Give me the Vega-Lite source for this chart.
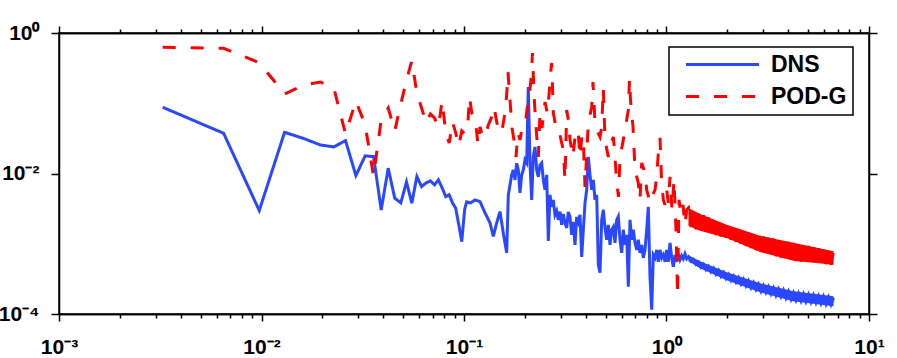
{
 "$schema": "https://vega.github.io/schema/vega-lite/v6.json",
 "width": 810, "height": 281,
 "autosize": {"type": "none"},
 "padding": {"left": 59, "top": 33, "right": 28, "bottom": 44},
 "background": "white",
 "config": {
  "view": {"stroke": "black", "strokeWidth": 1.5},
  "axis": {"labelFont": "Liberation Sans", "labelFontWeight": "bold", "labelFontSize": 21, "labelColor": "black", "ticks": true, "tickColor": "black", "tickWidth": 1.5, "grid": false, "domain": true, "domainColor": "black", "domainWidth": 1.5, "title": null, "zindex": 2},
  "legend": {"strokeWidth": 1.5}
 },
 "data": {"values": [
{"f":0.00325,"v":0.0877,"s":"DNS"},{"f":0.0065,"v":0.0374,"s":"DNS"},{"f":0.00975,"v":0.00297,"s":"DNS"},{"f":0.013,"v":0.0386,"s":"DNS"},{"f":0.01625,"v":0.0313,"s":"DNS"},{"f":0.0195,"v":0.0255,"s":"DNS"},{"f":0.02275,"v":0.0239,"s":"DNS"},{"f":0.026,"v":0.0294,"s":"DNS"},{"f":0.02925,"v":0.00933,"s":"DNS"},{"f":0.0325,"v":0.0178,"s":"DNS"},{"f":0.03575,"v":0.0174,"s":"DNS"},{"f":0.039,"v":0.00303,"s":"DNS"},{"f":0.04225,"v":0.0119,"s":"DNS"},{"f":0.0455,"v":0.00446,"s":"DNS"},{"f":0.04875,"v":0.00382,"s":"DNS"},{"f":0.052,"v":0.0076,"s":"DNS"},{"f":0.05525,"v":0.00378,"s":"DNS"},{"f":0.0585,"v":0.00904,"s":"DNS"},{"f":0.06175,"v":0.00652,"s":"DNS"},{"f":0.065,"v":0.00735,"s":"DNS"},{"f":0.06825,"v":0.00785,"s":"DNS"},{"f":0.0715,"v":0.00689,"s":"DNS"},{"f":0.07475,"v":0.00811,"s":"DNS"},{"f":0.078,"v":0.00624,"s":"DNS"},{"f":0.08125,"v":0.00469,"s":"DNS"},{"f":0.0845,"v":0.00497,"s":"DNS"},{"f":0.08775,"v":0.00382,"s":"DNS"},{"f":0.091,"v":0.00321,"s":"DNS"},{"f":0.09425,"v":0.00186,"s":"DNS"},{"f":0.0975,"v":0.00107,"s":"DNS"},{"f":0.10075,"v":0.0031,"s":"DNS"},
{"f":0.1031,"v":0.00395,"s":"DNS"},{"f":0.1079,"v":0.00382,"s":"DNS"},{"f":0.1133,"v":0.00421,"s":"DNS"},{"f":0.12,"v":0.00398,"s":"DNS"},{"f":0.127,"v":0.00275,"s":"DNS"},{"f":0.1344,"v":0.00198,"s":"DNS"},{"f":0.1395,"v":0.00127,"s":"DNS"},{"f":0.145,"v":0.00198,"s":"DNS"},{"f":0.1506,"v":0.00287,"s":"DNS"},{"f":0.1563,"v":0.00142,"s":"DNS"},{"f":0.1625,"v":0.000742,"s":"DNS"},{"f":0.1655,"v":0.00496,"s":"DNS"},{"f":0.172,"v":0.00955,"s":"DNS"},{"f":0.1752,"v":0.01125,"s":"DNS"},{"f":0.1786,"v":0.00811,"s":"DNS"},{"f":0.182,"v":0.014,"s":"DNS"},{"f":0.1854,"v":0.01125,"s":"DNS"},{"f":0.189,"v":0.0053,"s":"DNS"},{"f":0.1927,"v":0.00955,"s":"DNS"},{"f":0.1963,"v":0.01125,"s":"DNS"},{"f":0.2001,"v":0.0156,"s":"DNS"},{"f":0.204,"v":0.01415,"s":"DNS"},{"f":0.2077,"v":0.1706,"s":"DNS"},{"f":0.2118,"v":0.01415,"s":"DNS"},{"f":0.2159,"v":0.00421,"s":"DNS"},{"f":0.2199,"v":0.0172,"s":"DNS"},{"f":0.2242,"v":0.0239,"s":"DNS"},{"f":0.2286,"v":0.01125,"s":"DNS"},{"f":0.2328,"v":0.00895,"s":"DNS"},{"f":0.2373,"v":0.01325,"s":"DNS"},{"f":0.2419,"v":0.01415,"s":"DNS"},{"f":0.2464,"v":0.00811,"s":"DNS"},{"f":0.2512,"v":0.00585,"s":"DNS"},{"f":0.2561,"v":0.00955,"s":"DNS"},{"f":0.2608,"v":0.0011,"s":"DNS"},{"f":0.2659,"v":0.00496,"s":"DNS"},{"f":0.2711,"v":0.00335,"s":"DNS"},{"f":0.2761,"v":0.00421,"s":"DNS"},{"f":0.2814,"v":0.00258,"s":"DNS"},{"f":0.2869,"v":0.00294,"s":"DNS"},{"f":0.2922,"v":0.00219,"s":"DNS"},{"f":0.2979,"v":0.00287,"s":"DNS"},{"f":0.3037,"v":0.00186,"s":"DNS"},{"f":0.3093,"v":0.00266,"s":"DNS"},{"f":0.3153,"v":0.00198,"s":"DNS"},{"f":0.3215,"v":0.00168,"s":"DNS"},{"f":0.3274,"v":0.00284,"s":"DNS"},{"f":0.3338,"v":0.00241,"s":"DNS"},{"f":0.3402,"v":0.00134,"s":"DNS"},{"f":0.3465,"v":0.00205,"s":"DNS"},{"f":0.3533,"v":0.000965,"s":"DNS"},{"f":0.3602,"v":0.00241,"s":"DNS"},{"f":0.3668,"v":0.00205,"s":"DNS"},{"f":0.3739,"v":0.00258,"s":"DNS"},{"f":0.3813,"v":0.000651,"s":"DNS"},{"f":0.3883,"v":0.00158,"s":"DNS"},{"f":0.3959,"v":0.00382,"s":"DNS"},{"f":0.4036,"v":0.00585,"s":"DNS"},{"f":0.411,"v":0.0172,"s":"DNS"},{"f":0.419,"v":0.00955,"s":"DNS"},{"f":0.4272,"v":0.00585,"s":"DNS"},{"f":0.435,"v":0.00811,"s":"DNS"},{"f":0.4436,"v":0.00421,"s":"DNS"},{"f":0.4522,"v":0.00496,"s":"DNS"},{"f":0.4605,"v":0.000501,"s":"DNS"},{"f":0.4695,"v":0.000386,"s":"DNS"},{"f":0.4786,"v":0.00219,"s":"DNS"},{"f":0.4874,"v":0.00304,"s":"DNS"},{"f":0.4969,"v":0.00168,"s":"DNS"},{"f":0.5067,"v":0.00114,"s":"DNS"},{"f":0.516,"v":0.00186,"s":"DNS"},{"f":0.526,"v":0.000965,"s":"DNS"},{"f":0.5363,"v":0.00158,"s":"DNS"},{"f":0.5462,"v":0.00174,"s":"DNS"},{"f":0.5568,"v":0.00103,"s":"DNS"},{"f":0.5677,"v":0.00219,"s":"DNS"},{"f":0.5781,"v":0.00244,"s":"DNS"},{"f":0.5894,"v":0.00114,"s":"DNS"},{"f":0.6009,"v":0.000742,"s":"DNS"},{"f":0.6119,"v":0.00158,"s":"DNS"},{"f":0.6239,"v":0.000965,"s":"DNS"},{"f":0.6361,"v":0.00134,"s":"DNS"},{"f":0.6478,"v":0.000244,"s":"DNS"},{"f":0.6604,"v":0.00219,"s":"DNS"},{"f":0.6732,"v":0.00114,"s":"DNS"},{"f":0.6855,"v":0.00158,"s":"DNS"},{"f":0.699,"v":0.00103,"s":"DNS"},{"f":0.7125,"v":0.000819,"s":"DNS"},{"f":0.7257,"v":0.00114,"s":"DNS"},{"f":0.7398,"v":0.000742,"s":"DNS"},{"f":0.7543,"v":0.000965,"s":"DNS"},{"f":0.7681,"v":0.00063,"s":"DNS"},{"f":0.7831,"v":0.000819,"s":"DNS"},{"f":0.7984,"v":0.00158,"s":"DNS"},{"f":0.8131,"v":0.00335,"s":"DNS"},{"f":0.829,"v":0.000338,"s":"DNS"},{"f":0.8452,"v":0.000115,"s":"DNS"},{"f":0.8608,"v":0.000695,"s":"DNS"},{"f":0.8775,"v":0.00063,"s":"DNS"},{"f":0.8947,"v":0.000819,"s":"DNS"},{"f":0.9111,"v":0.000553,"s":"DNS"},{"f":0.9289,"v":0.000819,"s":"DNS"},{"f":0.9471,"v":0.00063,"s":"DNS"},{"f":0.9644,"v":0.000695,"s":"DNS"},{"f":0.9831,"v":0.000553,"s":"DNS"},{"f":1.0023,"v":0.000819,"s":"DNS"},{"f":1.0207,"v":0.000553,"s":"DNS"},{"f":1.0406,"v":0.00103,"s":"DNS"},{"f":1.0609,"v":0.00063,"s":"DNS"},{"f":1.0804,"v":0.000469,"s":"DNS"},{"f":1.1015,"v":0.000695,"s":"DNS"},{"f":1.123,"v":0.000553,"s":"DNS"},{"f":1.1436,"v":0.000718,"s":"DNS"},{"f":1.1659,"v":0.00059,"s":"DNS"},{"f":1.1887,"v":0.000673,"s":"DNS"},{"f":1.2104,"v":0.00061,"s":"DNS"},{"f":1.234,"v":0.000718,"s":"DNS"},{"f":1.258,"v":0.00061,"s":"DNS"},
{"f":1.284,"v":0.000651,"s":"DNS"},{"f":1.321,"v":0.000562,"s":"DNS"},{"f":1.359,"v":0.000598,"s":"DNS"},{"f":1.398,"v":0.000509,"s":"DNS"},{"f":1.439,"v":0.000547,"s":"DNS"},{"f":1.481,"v":0.000463,"s":"DNS"},{"f":1.523,"v":0.000511,"s":"DNS"},{"f":1.567,"v":0.000428,"s":"DNS"},{"f":1.612,"v":0.000477,"s":"DNS"},{"f":1.659,"v":0.000398,"s":"DNS"},{"f":1.707,"v":0.000447,"s":"DNS"},{"f":1.756,"v":0.000369,"s":"DNS"},{"f":1.807,"v":0.000417,"s":"DNS"},{"f":1.859,"v":0.000344,"s":"DNS"},{"f":1.913,"v":0.000391,"s":"DNS"},{"f":1.968,"v":0.00032,"s":"DNS"},{"f":2.025,"v":0.000366,"s":"DNS"},{"f":2.083,"v":0.000301,"s":"DNS"},{"f":2.143,"v":0.000347,"s":"DNS"},{"f":2.205,"v":0.000284,"s":"DNS"},{"f":2.268,"v":0.000328,"s":"DNS"},{"f":2.334,"v":0.000267,"s":"DNS"},{"f":2.401,"v":0.000312,"s":"DNS"},{"f":2.47,"v":0.000252,"s":"DNS"},{"f":2.541,"v":0.000295,"s":"DNS"},{"f":2.615,"v":0.000237,"s":"DNS"},{"f":2.69,"v":0.000279,"s":"DNS"},{"f":2.767,"v":0.000224,"s":"DNS"},{"f":2.847,"v":0.000265,"s":"DNS"},{"f":2.929,"v":0.000212,"s":"DNS"},{"f":3.013,"v":0.000253,"s":"DNS"},{"f":3.1,"v":0.000203,"s":"DNS"},{"f":3.19,"v":0.000243,"s":"DNS"},{"f":3.282,"v":0.000194,"s":"DNS"},{"f":3.376,"v":0.000234,"s":"DNS"},{"f":3.474,"v":0.000185,"s":"DNS"},{"f":3.574,"v":0.000225,"s":"DNS"},{"f":3.677,"v":0.000178,"s":"DNS"},{"f":3.783,"v":0.000217,"s":"DNS"},{"f":3.892,"v":0.00017,"s":"DNS"},{"f":4.004,"v":0.000208,"s":"DNS"},{"f":4.12,"v":0.000163,"s":"DNS"},{"f":4.238,"v":0.0002,"s":"DNS"},{"f":4.361,"v":0.000158,"s":"DNS"},{"f":4.486,"v":0.000196,"s":"DNS"},{"f":4.616,"v":0.000154,"s":"DNS"},{"f":4.749,"v":0.000192,"s":"DNS"},{"f":4.886,"v":0.000151,"s":"DNS"},{"f":5.026,"v":0.000188,"s":"DNS"},{"f":5.171,"v":0.000148,"s":"DNS"},{"f":5.32,"v":0.000185,"s":"DNS"},{"f":5.474,"v":0.000145,"s":"DNS"},{"f":5.632,"v":0.00018,"s":"DNS"},{"f":5.794,"v":0.000142,"s":"DNS"},{"f":5.961,"v":0.000177,"s":"DNS"},{"f":6.133,"v":0.000139,"s":"DNS"},{"f":6.31,"v":0.000173,"s":"DNS"},{"f":6.492,"v":0.000137,"s":"DNS"},{"f":6.679,"v":0.00017,"s":"DNS"},
{"f":0.00325,"v":0.626,"s":"POD-G"},{"f":0.0065,"v":0.606,"s":"POD-G"},{"f":0.00975,"v":0.378,"s":"POD-G"},{"f":0.013,"v":0.1356,"s":"POD-G"},{"f":0.01625,"v":0.182,"s":"POD-G"},{"f":0.0195,"v":0.201,"s":"POD-G"},{"f":0.02275,"v":0.165,"s":"POD-G"},{"f":0.026,"v":0.0366,"s":"POD-G"},{"f":0.02925,"v":0.1078,"s":"POD-G"},{"f":0.0325,"v":0.0491,"s":"POD-G"},{"f":0.03575,"v":0.00925,"s":"POD-G"},{"f":0.039,"v":0.0579,"s":"POD-G"},{"f":0.04225,"v":0.0857,"s":"POD-G"},{"f":0.0455,"v":0.0404,"s":"POD-G"},{"f":0.04875,"v":0.0977,"s":"POD-G"},{"f":0.052,"v":0.2145,"s":"POD-G"},{"f":0.05525,"v":0.4,"s":"POD-G"},{"f":0.0585,"v":0.14,"s":"POD-G"},{"f":0.06175,"v":0.0857,"s":"POD-G"},{"f":0.065,"v":0.0525,"s":"POD-G"},{"f":0.06825,"v":0.0704,"s":"POD-G"},{"f":0.0715,"v":0.0618,"s":"POD-G"},{"f":0.07475,"v":0.046,"s":"POD-G"},{"f":0.078,"v":0.1078,"s":"POD-G"},{"f":0.08125,"v":0.0378,"s":"POD-G"},{"f":0.0845,"v":0.0272,"s":"POD-G"},{"f":0.08775,"v":0.0542,"s":"POD-G"},{"f":0.091,"v":0.0378,"s":"POD-G"},{"f":0.09425,"v":0.0247,"s":"POD-G"},{"f":0.0975,"v":0.0404,"s":"POD-G"},{"f":0.10075,"v":0.0366,"s":"POD-G"},
{"f":0.1041,"v":0.0445,"s":"POD-G"},{"f":0.1065,"v":0.1229,"s":"POD-G"},{"f":0.1092,"v":0.0728,"s":"POD-G"},{"f":0.1133,"v":0.0639,"s":"POD-G"},{"f":0.1173,"v":0.0255,"s":"POD-G"},{"f":0.12,"v":0.046,"s":"POD-G"},{"f":0.1237,"v":0.0332,"s":"POD-G"},{"f":0.127,"v":0.0332,"s":"POD-G"},{"f":0.1318,"v":0.0491,"s":"POD-G"},{"f":0.137,"v":0.0639,"s":"POD-G"},{"f":0.1407,"v":0.0886,"s":"POD-G"},{"f":0.1439,"v":0.0618,"s":"POD-G"},{"f":0.1477,"v":0.0417,"s":"POD-G"},{"f":0.1535,"v":0.0378,"s":"POD-G"},{"f":0.1581,"v":0.0639,"s":"POD-G"},{"f":0.1625,"v":0.1312,"s":"POD-G"},{"f":0.1649,"v":0.2788,"s":"POD-G"},{"f":0.1687,"v":0.1114,"s":"POD-G"},{"f":0.1726,"v":0.0445,"s":"POD-G"},{"f":0.1766,"v":0.0301,"s":"POD-G"},{"f":0.1806,"v":0.0172,"s":"POD-G"},{"f":0.1848,"v":0.0378,"s":"POD-G"},{"f":0.189,"v":0.0301,"s":"POD-G"},{"f":0.1927,"v":0.0417,"s":"POD-G"},{"f":0.2001,"v":0.046,"s":"POD-G"},{"f":0.2047,"v":0.0803,"s":"POD-G"},{"f":0.2094,"v":0.1229,"s":"POD-G"},{"f":0.2142,"v":0.2145,"s":"POD-G"},{"f":0.2179,"v":0.5194,"s":"POD-G"},{"f":0.2217,"v":0.1312,"s":"POD-G"},{"f":0.2268,"v":0.046,"s":"POD-G"},{"f":0.2328,"v":0.0172,"s":"POD-G"},{"f":0.2373,"v":0.0728,"s":"POD-G"},{"f":0.2428,"v":0.0445,"s":"POD-G"},{"f":0.2512,"v":0.1044,"s":"POD-G"},{"f":0.2578,"v":0.0728,"s":"POD-G"},{"f":0.2629,"v":0.1312,"s":"POD-G"},{"f":0.268,"v":0.2698,"s":"POD-G"},{"f":0.2711,"v":0.3744,"s":"POD-G"},{"f":0.2761,"v":0.0728,"s":"POD-G"},{"f":0.283,"v":0.0491,"s":"POD-G"},{"f":0.2912,"v":0.0491,"s":"POD-G"},{"f":0.3013,"v":0.0301,"s":"POD-G"},{"f":0.3093,"v":0.0217,"s":"POD-G"},{"f":0.3153,"v":0.00811,"s":"POD-G"},{"f":0.3215,"v":0.0803,"s":"POD-G"},{"f":0.3274,"v":0.0579,"s":"POD-G"},{"f":0.3338,"v":0.0301,"s":"POD-G"},{"f":0.3454,"v":0.0172,"s":"POD-G"},{"f":0.3533,"v":0.0332,"s":"POD-G"},{"f":0.3656,"v":0.0417,"s":"POD-G"},{"f":0.3739,"v":0.0172,"s":"POD-G"},{"f":0.3826,"v":0.0354,"s":"POD-G"},{"f":0.3883,"v":0.0301,"s":"POD-G"},{"f":0.3959,"v":0.00645,"s":"POD-G"},{"f":0.411,"v":0.0525,"s":"POD-G"},{"f":0.4272,"v":0.0886,"s":"POD-G"},{"f":0.4336,"v":0.2009,"s":"POD-G"},{"f":0.4436,"v":0.0525,"s":"POD-G"},{"f":0.4522,"v":0.0417,"s":"POD-G"},{"f":0.4695,"v":0.0332,"s":"POD-G"},{"f":0.4786,"v":0.046,"s":"POD-G"},{"f":0.4874,"v":0.1651,"s":"POD-G"},{"f":0.4969,"v":0.0301,"s":"POD-G"},{"f":0.516,"v":0.0172,"s":"POD-G"},{"f":0.526,"v":0.0239,"s":"POD-G"},{"f":0.5462,"v":0.0332,"s":"POD-G"},{"f":0.5537,"v":0.0217,"s":"POD-G"},{"f":0.5677,"v":0.00735,"s":"POD-G"},{"f":0.5794,"v":0.00465,"s":"POD-G"},{"f":0.5894,"v":0.0172,"s":"POD-G"},{"f":0.6119,"v":0.0301,"s":"POD-G"},{"f":0.6239,"v":0.0417,"s":"POD-G"},{"f":0.6478,"v":0.0803,"s":"POD-G"},{"f":0.6567,"v":0.2217,"s":"POD-G"},{"f":0.6641,"v":0.1114,"s":"POD-G"},{"f":0.6833,"v":0.046,"s":"POD-G"},{"f":0.699,"v":0.01125,"s":"POD-G"},{"f":0.7257,"v":0.00735,"s":"POD-G"},{"f":0.7398,"v":0.00421,"s":"POD-G"},{"f":0.7543,"v":0.01415,"s":"POD-G"},{"f":0.7831,"v":0.0102,"s":"POD-G"},{"f":0.7984,"v":0.00585,"s":"POD-G"},{"f":0.829,"v":0.00382,"s":"POD-G"},{"f":0.8452,"v":0.00465,"s":"POD-G"},{"f":0.8775,"v":0.00585,"s":"POD-G"},{"f":0.8947,"v":0.00895,"s":"POD-G"},{"f":0.9132,"v":0.0217,"s":"POD-G"},{"f":0.9289,"v":0.0321,"s":"POD-G"},{"f":0.9449,"v":0.00811,"s":"POD-G"},{"f":0.9644,"v":0.00421,"s":"POD-G"},{"f":0.9831,"v":0.00358,"s":"POD-G"},{"f":1.0023,"v":0.00585,"s":"POD-G"},{"f":1.0207,"v":0.00382,"s":"POD-G"},{"f":1.0406,"v":0.00895,"s":"POD-G"},{"f":1.0645,"v":0.00304,"s":"POD-G"},{"f":1.0891,"v":0.00811,"s":"POD-G"},{"f":1.1141,"v":0.00158,"s":"POD-G"},{"f":1.1334,"v":0.000182,"s":"POD-G"},{"f":1.1527,"v":0.00421,"s":"POD-G"},{"f":1.1792,"v":0.00258,"s":"POD-G"},{"f":1.2063,"v":0.00358,"s":"POD-G"},{"f":1.234,"v":0.00186,"s":"POD-G"},{"f":1.258,"v":0.00304,"s":"POD-G"},
{"f":1.284,"v":0.00324,"s":"POD-G"},{"f":1.321,"v":0.00173,"s":"POD-G"},{"f":1.359,"v":0.00298,"s":"POD-G"},{"f":1.398,"v":0.00161,"s":"POD-G"},{"f":1.439,"v":0.00273,"s":"POD-G"},{"f":1.481,"v":0.00151,"s":"POD-G"},{"f":1.523,"v":0.00254,"s":"POD-G"},{"f":1.567,"v":0.00145,"s":"POD-G"},{"f":1.612,"v":0.00237,"s":"POD-G"},{"f":1.659,"v":0.00139,"s":"POD-G"},{"f":1.707,"v":0.00222,"s":"POD-G"},{"f":1.756,"v":0.00133,"s":"POD-G"},{"f":1.807,"v":0.00208,"s":"POD-G"},{"f":1.859,"v":0.00127,"s":"POD-G"},{"f":1.913,"v":0.00194,"s":"POD-G"},{"f":1.968,"v":0.00122,"s":"POD-G"},{"f":2.025,"v":0.00182,"s":"POD-G"},{"f":2.083,"v":0.00114,"s":"POD-G"},{"f":2.143,"v":0.00173,"s":"POD-G"},{"f":2.205,"v":0.00107,"s":"POD-G"},{"f":2.268,"v":0.00164,"s":"POD-G"},{"f":2.334,"v":0.000997,"s":"POD-G"},{"f":2.401,"v":0.00155,"s":"POD-G"},{"f":2.47,"v":0.000931,"s":"POD-G"},{"f":2.541,"v":0.00147,"s":"POD-G"},{"f":2.615,"v":0.000869,"s":"POD-G"},{"f":2.69,"v":0.00139,"s":"POD-G"},{"f":2.767,"v":0.000811,"s":"POD-G"},{"f":2.847,"v":0.00132,"s":"POD-G"},{"f":2.929,"v":0.00076,"s":"POD-G"},{"f":3.013,"v":0.00127,"s":"POD-G"},{"f":3.1,"v":0.000728,"s":"POD-G"},{"f":3.19,"v":0.00122,"s":"POD-G"},{"f":3.282,"v":0.000695,"s":"POD-G"},{"f":3.376,"v":0.00118,"s":"POD-G"},{"f":3.474,"v":0.000666,"s":"POD-G"},{"f":3.574,"v":0.00114,"s":"POD-G"},{"f":3.677,"v":0.000636,"s":"POD-G"},{"f":3.783,"v":0.0011,"s":"POD-G"},{"f":3.892,"v":0.00061,"s":"POD-G"},{"f":4.004,"v":0.00106,"s":"POD-G"},{"f":4.12,"v":0.000583,"s":"POD-G"},{"f":4.238,"v":0.00103,"s":"POD-G"},{"f":4.361,"v":0.000566,"s":"POD-G"},{"f":4.486,"v":0.000994,"s":"POD-G"},{"f":4.616,"v":0.000556,"s":"POD-G"},{"f":4.749,"v":0.000958,"s":"POD-G"},{"f":4.886,"v":0.000547,"s":"POD-G"},{"f":5.026,"v":0.000928,"s":"POD-G"},{"f":5.171,"v":0.000539,"s":"POD-G"},{"f":5.32,"v":0.000895,"s":"POD-G"},{"f":5.474,"v":0.00053,"s":"POD-G"},{"f":5.632,"v":0.000866,"s":"POD-G"},{"f":5.794,"v":0.000521,"s":"POD-G"},{"f":5.961,"v":0.000835,"s":"POD-G"},{"f":6.133,"v":0.000513,"s":"POD-G"},{"f":6.31,"v":0.000808,"s":"POD-G"},{"f":6.492,"v":0.000504,"s":"POD-G"},{"f":6.679,"v":0.00078,"s":"POD-G"}
 ]},
 "layer": [
  {
   "data": {"values": [
    {"f":1.284,"hi":0.000684,"lo":0.000562},{"f":1.464,"hi":0.000562,"lo":0.000447},{"f":1.983,"hi":0.000392,"lo":0.000302},{"f":2.895,"hi":0.000273,"lo":0.000204},{"f":4.229,"hi":0.00021,"lo":0.000152},{"f":6.679,"hi":0.000179,"lo":0.000129}
   ]},
   "mark": {"type": "area", "color": "#2a48ff", "opacity": 1},
   "encoding": {
    "x": {"field": "f", "type": "quantitative", "scale": {"type": "log", "domain": [0.001, 10], "nice": false}, "axis": null},
    "y": {"field": "hi", "type": "quantitative", "scale": {"type": "log", "domain": [0.0001, 1], "nice": false}, "axis": null},
    "y2": {"field": "lo"}
   }
  },
  {
   "data": {"values": [
    {"f":1.284,"hi":0.00324,"lo":0.0018},{"f":1.464,"hi":0.00266,"lo":0.00153},{"f":1.983,"hi":0.00186,"lo":0.00121},{"f":2.895,"hi":0.0013,"lo":0.000767},{"f":4.229,"hi":0.00103,"lo":0.000571},{"f":6.679,"hi":0.00078,"lo":0.000501}
   ]},
   "mark": {"type": "area", "color": "#ff0000", "opacity": 1},
   "encoding": {
    "x": {"field": "f", "type": "quantitative", "scale": {"type": "log", "domain": [0.001, 10], "nice": false}, "axis": null},
    "y": {"field": "hi", "type": "quantitative", "scale": {"type": "log", "domain": [0.0001, 1], "nice": false}, "axis": null},
    "y2": {"field": "lo"}
   }
  },
  {
   "mark": {"type": "line", "strokeWidth": 3, "clip": true},
   "encoding": {
    "x": {"field": "f", "type": "quantitative", "scale": {"type": "log", "domain": [0.001, 10], "nice": false},
     "axis": {"orient": "bottom", "values": [0.001, 0.01, 0.1, 1, 10], "tickSize": 7,
      "labelExpr": "'10' + ['⁻⁴','⁻³','⁻²','⁻¹','⁰','¹'][round(log(datum.value)/LN10)+4]",
      "labelPadding": 15, "labelOverlap": false, "labelFlush": false, "labelBound": false, "labelAlign": "center", "labelBaseline": "top"}},
    "y": {"field": "v", "type": "quantitative", "scale": {"type": "log", "domain": [0.0001, 1], "nice": false},
     "axis": {"orient": "left", "values": [0.0001, 0.01, 1], "tickSize": 8, "tickOffset": 0,
      "labelExpr": "'10' + ['⁻⁴','⁻³','⁻²','⁻¹','⁰','¹'][round(log(datum.value)/LN10)+4]",
      "labelPadding": 12, "labelOverlap": false, "labelFlush": false, "labelBound": false, "labelAlign": "right", "labelBaseline": "middle"}},
    "color": {"field": "s", "type": "nominal", "scale": {"domain": ["DNS", "POD-G"], "range": ["#2a48ff", "#ff0000"]},
     "legend": {"orient": "none", "legendX": 610, "legendY": 14, "title": null, "padding": 6, "symbolOffset": 36, "symbolType": "M-4,0H4", "symbolSize": 333, "symbolStrokeWidth": 3, "labelFont": "Liberation Sans", "labelFontWeight": "bold", "labelFontSize": 23, "labelColor": "black", "labelOffset": 37, "rowPadding": 8, "strokeColor": "black", "fillColor": "white", "cornerRadius": 0}},
    "strokeDash": {"field": "s", "type": "nominal", "scale": {"domain": ["DNS", "POD-G"], "range": [[1, 0], [13, 15]]},
     "legend": {"orient": "none", "legendX": 610, "legendY": 14, "title": null, "padding": 6, "symbolOffset": 36, "symbolType": "M-4,0H4", "symbolSize": 333, "symbolStrokeWidth": 3, "labelFont": "Liberation Sans", "labelFontWeight": "bold", "labelFontSize": 23, "labelColor": "black", "labelOffset": 37, "rowPadding": 8, "strokeColor": "black", "fillColor": "white", "cornerRadius": 0}}
   }
  },
  {
   "mark": {"type": "line", "opacity": 0},
   "encoding": {
    "x": {"field": "f", "type": "quantitative", "scale": {"type": "log", "domain": [0.001, 10], "nice": false},
     "axis": {"orient": "top", "labels": false, "values": [0.001, 0.01, 0.1, 1, 10], "tickSize": 7}},
    "y": {"field": "v", "type": "quantitative", "scale": {"type": "log", "domain": [0.0001, 1], "nice": false},
     "axis": {"orient": "right", "labels": false, "values": [0.0001, 0.01, 1], "tickSize": 8}},
    "detail": {"field": "s"}
   }
  },
  {
   "mark": {"type": "line", "opacity": 0},
   "encoding": {
    "x": {"field": "f", "type": "quantitative", "scale": {"type": "log", "domain": [0.001, 10], "nice": false},
     "axis": {"orient": "bottom", "labels": false, "tickSize": 4, "values": [0.002,0.003,0.004,0.005,0.006,0.007,0.008,0.009,0.02,0.03,0.04,0.05,0.06,0.07,0.08,0.09,0.2,0.3,0.4,0.5,0.6,0.7,0.8,0.9,2,3,4,5,6,7,8,9]}},
    "y": {"field": "v", "type": "quantitative", "scale": {"type": "log", "domain": [0.0001, 1], "nice": false}, "axis": null},
    "detail": {"field": "s"}
   }
  },
  {
   "mark": {"type": "line", "opacity": 0},
   "encoding": {
    "x": {"field": "f", "type": "quantitative", "scale": {"type": "log", "domain": [0.001, 10], "nice": false},
     "axis": {"orient": "top", "labels": false, "tickSize": 4, "values": [0.002,0.003,0.004,0.005,0.006,0.007,0.008,0.009,0.02,0.03,0.04,0.05,0.06,0.07,0.08,0.09,0.2,0.3,0.4,0.5,0.6,0.7,0.8,0.9,2,3,4,5,6,7,8,9]}},
    "y": {"field": "v", "type": "quantitative", "scale": {"type": "log", "domain": [0.0001, 1], "nice": false}, "axis": null},
    "detail": {"field": "s"}
   }
  }
 ],
 "resolve": {"axis": {"x": "independent", "y": "independent"}}
}
